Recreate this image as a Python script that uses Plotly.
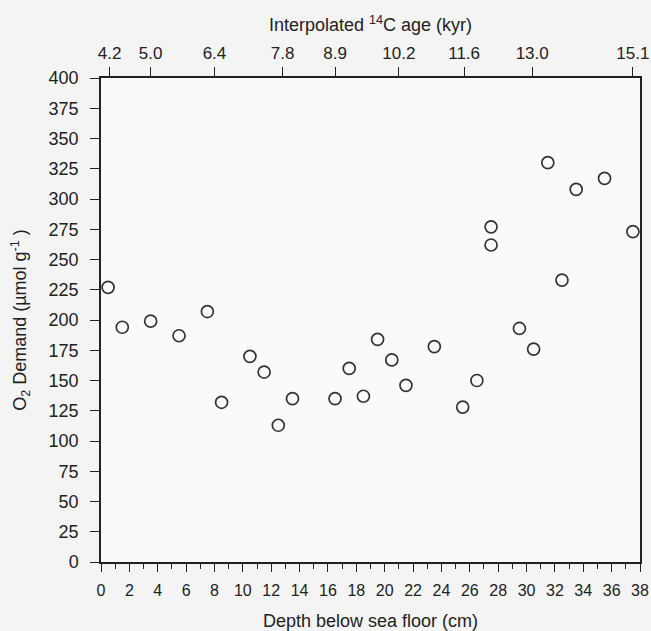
import plotly.graph_objects as go

# Data
depth_cm = [0.5, 1.5, 3.5, 5.5, 7.5, 8.5, 10.5, 11.5, 12.5, 13.5,
            16.5, 17.5, 18.5, 19.5, 20.5, 21.5, 23.5, 25.5, 26.5, 27.5,
            27.5, 29.5, 30.5, 31.5, 32.5, 33.5, 35.5, 37.5]
o2_demand = [227, 194, 199, 187, 207, 132, 170, 157, 113, 135,
             135, 160, 137, 184, 167, 146, 178, 128, 150, 277,
             262, 193, 176, 330, 233, 308, 317, 273]

# Top axis: interpolated 14C ages and the depths where they sit
age_depths = [0.6, 3.5, 8.0, 12.8, 16.5, 21.0, 25.6, 30.4, 37.5]
age_labels = ["4.2", "5.0", "6.4", "7.8", "8.9", "10.2", "11.6", "13.0", "15.1"]

x_ticks = list(range(0, 39, 2))
y_ticks = list(range(0, 401, 25))

FONT = "Liberation Sans, Arial, sans-serif"
INK = "#222222"

fig = go.Figure()
fig.add_trace(go.Scatter(
    x=depth_cm, y=o2_demand, mode="markers",
    marker=dict(symbol="circle-open", size=12, color="#333333",
                line=dict(width=1.7, color="#333333")),
    showlegend=False, cliponaxis=False,
))
# invisible trace to activate top axis
fig.add_trace(go.Scatter(x=[depth_cm[0]], y=[o2_demand[0]], xaxis="x2",
                         mode="markers", marker=dict(opacity=0),
                         showlegend=False, hoverinfo="skip"))

fig.update_layout(
    width=651, height=631,
    margin=dict(l=101, r=11, t=78, b=69),
    paper_bgcolor="#f4f4f4", plot_bgcolor="#fafafa",
    font=dict(family=FONT, size=16, color=INK),
    xaxis=dict(
        range=[0, 38], tickvals=x_ticks, ticktext=[str(v) for v in x_ticks],
        ticks="outside", ticklen=8, tickwidth=1.2, tickcolor=INK,
        minor=dict(ticks="outside", dtick=1, tick0=0, ticklen=5, tickcolor=INK),
        showline=True, linecolor=INK, linewidth=1.5,
        showgrid=False, zeroline=False, automargin=False,
        tickfont=dict(size=16), ticklabelstandoff=5,
        title=dict(text="Depth below sea floor (cm)", font=dict(size=18), standoff=16),
    ),
    xaxis2=dict(
        overlaying="x", side="top", range=[0, 38],
        tickvals=age_depths, ticktext=age_labels,
        ticks="outside", ticklen=9, tickwidth=1.2, tickcolor=INK,
        showline=True, linecolor=INK, linewidth=1.5,
        showgrid=False, zeroline=False, automargin=False,
        tickfont=dict(size=17), ticklabelstandoff=1,
        title=dict(text="Interpolated <sup>14</sup>C age (kyr)", font=dict(size=18), standoff=8),
    ),
    yaxis=dict(
        range=[0, 400], tickvals=y_ticks, ticktext=[str(v) for v in y_ticks],
        ticks="outside", ticklen=9, tickwidth=1.2, tickcolor=INK,
        showline=True, linecolor=INK, linewidth=1.5, mirror=True,
        showgrid=False, zeroline=False, automargin=False,
        tickfont=dict(size=18), ticklabelstandoff=8,
        title=dict(text="O<sub>2</sub> Demand (µmol g<sup>-1</sup> )", font=dict(size=18), standoff=17),
    ),
)

fig.write_html("out.html")
